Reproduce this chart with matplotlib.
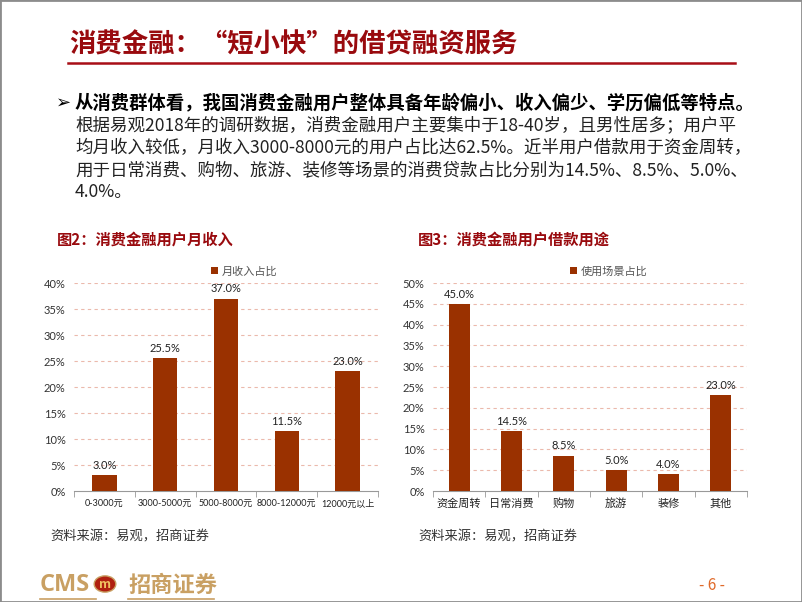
import numpy as np
import matplotlib
matplotlib.use('Agg')
import matplotlib.pyplot as plt
from matplotlib.patches import Rectangle, Circle
from matplotlib.lines import Line2D

plt.rcParams['font.family'] = ['Noto Sans CJK SC', 'DejaVu Sans']

## data
income_labels = ['0-3000元', '3000-5000元', '5000-8000元', '8000-12000元', '12000元以上']
income_share = [3.0, 25.5, 37.0, 11.5, 23.0]
usage_labels = ['资金周转', '日常消费', '购物', '旅游', '装修', '其他']
usage_share = [45.0, 14.5, 8.5, 5.0, 4.0, 23.0]

slide_title = '消费金融：“短小快”的借贷融资服务'
lead_line = '从消费群体看，我国消费金融用户整体具备年龄偏小、收入偏少、学历偏低等特点。'
body_lines = ['根据易观2018年的调研数据，消费金融用户主要集中于18-40岁，且男性居多；用户平',
              '均月收入较低，月收入3000-8000元的用户占比达62.5%。近半用户借款用于资金周转，',
              '用于日常消费、购物、旅游、装修等场景的消费贷款占比分别为14.5%、8.5%、5.0%、',
              '4.0%。']
chart_titles = ['图2：消费金融用户月收入', '图3：消费金融用户借款用途']
legend_names = ['月收入占比', '使用场景占比']
source_note = '资料来源：易观，招商证券'

W, H = 802, 602
dark_red = '#990A0E'
bar_color = '#9A3100'
grid_color = '#EBB9AC'
num_font = ['Lato', 'Noto Sans CJK SC']

fig = plt.figure(figsize=(W / 100, H / 100), dpi=100)

def fx(x):
    return x / W

def fy(y):
    return 1 - y / H

## frame and heading
fig.patches.append(Rectangle((0, 0), 1, 1, transform=fig.transFigure, fill=False,
                             edgecolor='#8c8c8c', lw=2))
fig.text(fx(69), fy(45), slide_title, fontsize=19, fontweight='bold', color=dark_red,
         ha='left', va='center')
fig.lines.append(Line2D([fx(68), fx(735)], [fy(63), fy(63)], transform=fig.transFigure,
                        color='#A80E16', lw=1.8))

## body text
fig.text(fx(56), fy(103), '➢', fontsize=13, family=['DejaVu Sans'], ha='left', va='center')
fig.text(fx(75), fy(103), lead_line, fontsize=13.2, fontweight='bold', ha='left', va='center')
for i, line in enumerate(body_lines):
    fig.text(fx(75), fy(125.5 + 22.3 * i), line, fontsize=12.6, color='#222222',
             ha='left', va='center')


def bar_chart(left, right, labels, values, ymax, name, cat_size, cat_pad):
    ax = fig.add_axes([fx(left), fy(491), fx(right) - fx(left), fy(283) - fy(491)])
    x = np.arange(len(values))
    ax.bar(x, values, width=0.4, color=bar_color, label=name, zorder=3)
    ax.set_xlim(-0.5, len(values) - 0.5)
    ax.set_ylim(0, ymax)
    yt = np.arange(0, ymax + 1, 5)
    ax.set_yticks(yt)
    ax.set_yticklabels(['%d%%' % v for v in yt], family=num_font, fontsize=8, color='#333333')
    for v in yt[1:]:
        ax.axhline(v, color=grid_color, ls=(0, (3, 3)), lw=0.8, zorder=1)
    for s in ['top', 'right', 'left']:
        ax.spines[s].set_visible(False)
    ax.spines['bottom'].set_color('#999999')
    ax.set_xticks(x)
    ax.set_xticklabels(labels, family=num_font, fontsize=cat_size, color='#222222')
    ax.set_xticks(np.arange(-0.5, len(values)), minor=True)
    ax.tick_params(axis='x', which='major', length=0, pad=cat_pad)
    ax.tick_params(axis='x', which='minor', length=4, color='#999999')
    ax.tick_params(axis='y', length=0, pad=6)
    for i, v in enumerate(values):
        ax.annotate('%.1f%%' % v, (i, v), xytext=(0, 3), textcoords='offset points',
                    ha='center', va='bottom', fontsize=8, family=num_font, color='#222222')
    ax.legend(loc='lower center', bbox_to_anchor=(0.56, 1.0), frameon=False, fontsize=8,
              handlelength=0.6, handleheight=0.6, handletextpad=0.4, borderaxespad=0.2,
              labelcolor='#555555')
    return ax

fig.text(fx(57), fy(240), chart_titles[0], fontsize=11, fontweight='bold', color=dark_red,
         ha='left', va='center')
fig.text(fx(418), fy(240), chart_titles[1], fontsize=11, fontweight='bold', color=dark_red,
         ha='left', va='center')

bar_chart(74, 378, income_labels, income_share, 40, legend_names[0], 6.5, 6)
bar_chart(433, 747, usage_labels, usage_share, 50, legend_names[1], 8, 5)

fig.text(fx(50), fy(537), source_note, fontsize=9.5, color='#333333', ha='left', va='center')
fig.text(fx(418), fy(537), source_note, fontsize=9.5, color='#333333', ha='left', va='center')

## footer logo and page number
gold = '#C9A063'
fig.text(fx(40), fy(585), 'CMS', fontsize=17, fontweight='bold', family=['Open Sans'],
         color=gold, ha='left', va='center')
fig.patches.append(Circle((fx(105), fy(584)), 0.0135, transform=fig.transFigure,
                          facecolor='#B02010', edgecolor=gold, lw=1))
fig.text(fx(105), fy(584), 'm', fontsize=9, fontweight='bold', color='#F0C060',
         ha='center', va='center')
fig.text(fx(128), fy(585), '招商证券', fontsize=16, fontweight='bold', color=gold,
         ha='left', va='center')
fig.lines.append(Line2D([fx(40), fx(96)], [fy(599), fy(599)], transform=fig.transFigure,
                        color=gold, lw=1.2))
fig.lines.append(Line2D([fx(128), fx(214)], [fy(599), fy(599)], transform=fig.transFigure,
                        color=gold, lw=1.2))
fig.text(fx(712), fy(585), '- 6 -', fontsize=11, color='#E06A2A', ha='center', va='center')

fig.savefig('out.png', dpi=100)
